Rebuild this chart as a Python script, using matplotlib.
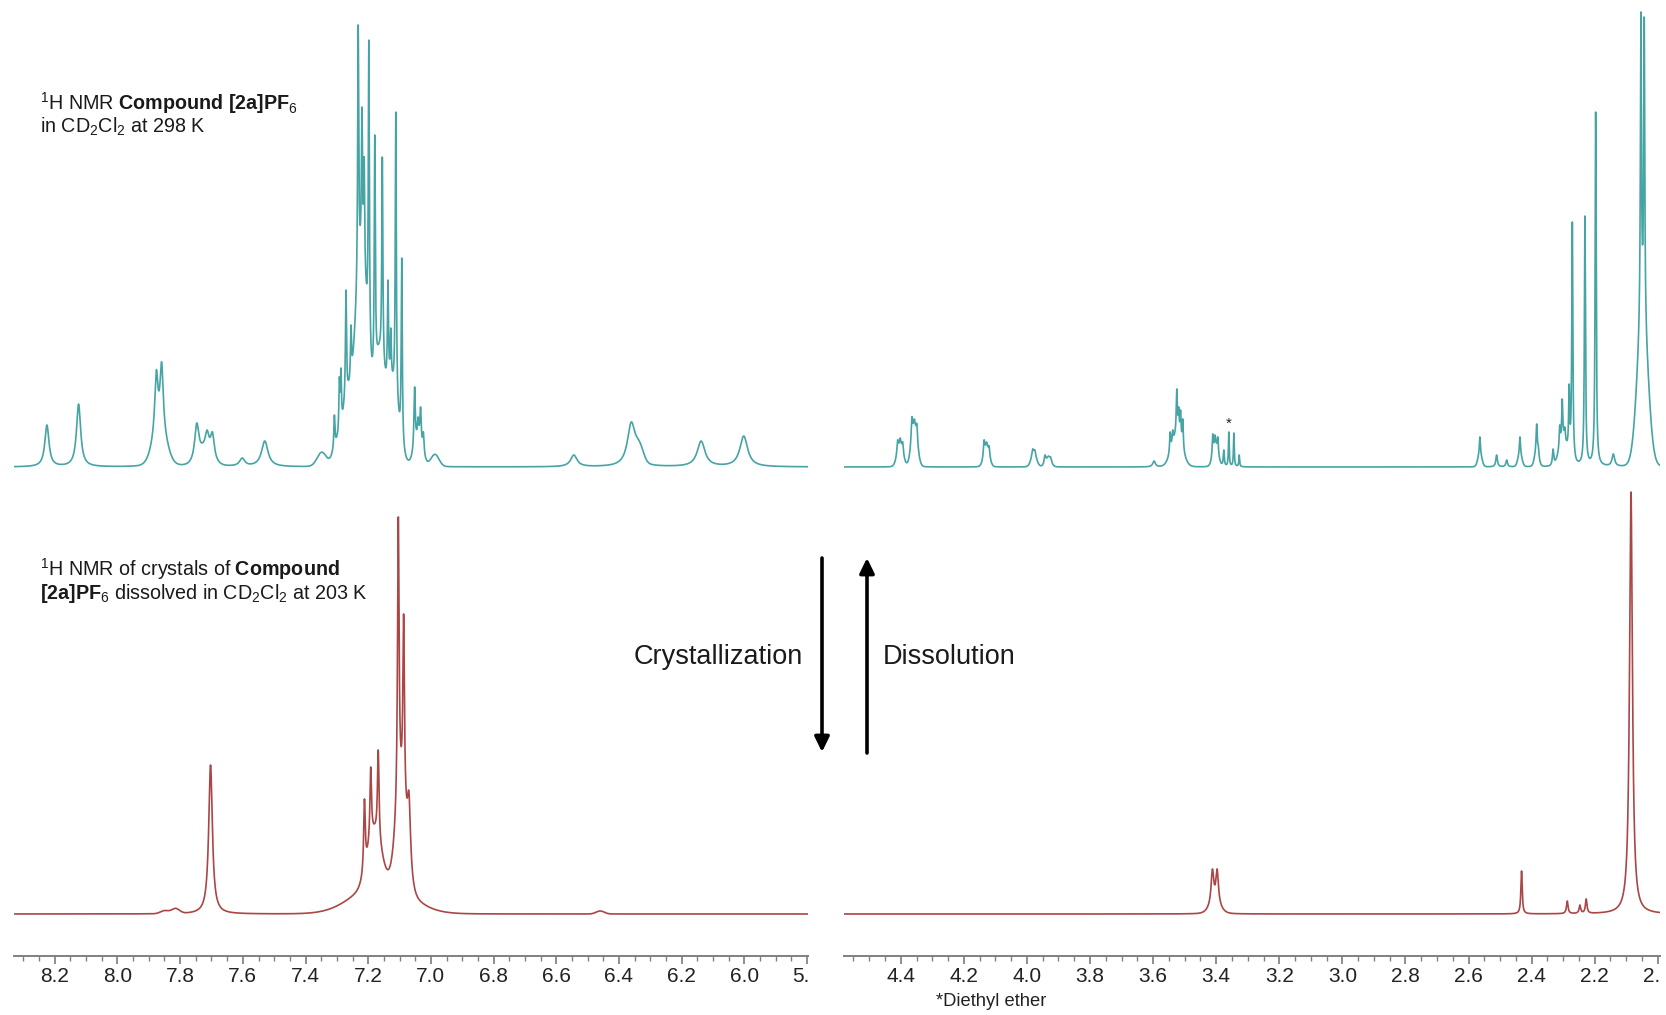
import numpy as np
import matplotlib
matplotlib.use("Agg")
import matplotlib.pyplot as plt
from matplotlib.ticker import FixedLocator, MultipleLocator
from matplotlib.transforms import Bbox, TransformedBbox

plt.rcParams["font.family"] = ["Liberation Sans", "DejaVu Sans"]
plt.rcParams["mathtext.fontset"] = "custom"
plt.rcParams["mathtext.rm"] = "Liberation Sans"
plt.rcParams["mathtext.bf"] = "Liberation Sans:bold"
plt.rcParams["mathtext.it"] = "Liberation Sans:italic"

W, H = 1666, 1015

# ---- espectro superior (298 K): linhas finas  (ppm, altura aparente, largura) ----
top_ppm = [8.225, 8.124, 7.876, 7.859, 7.747, 7.714, 7.697, 7.602, 7.530,
           7.308, 7.292, 7.287, 7.271, 7.255, 7.232, 7.220, 7.213, 7.198, 7.179,
           7.155, 7.137, 7.128, 7.112, 7.093, 7.052, 7.041, 7.033, 7.024,
           6.544, 6.361, 6.138, 6.002,
           4.410, 4.402, 4.394, 4.365, 4.357, 4.349, 4.136, 4.128, 4.120,
           3.982, 3.975, 3.943, 3.932, 3.925, 3.597,
           3.546, 3.538, 3.525, 3.519, 3.513, 3.506,
           3.411, 3.404, 3.395, 3.376, 3.360, 3.344, 3.327,
           2.564, 2.511, 2.479, 2.437, 2.384, 2.379, 2.332,
           2.311, 2.303, 2.295, 2.281, 2.271, 2.231, 2.197, 2.141, 2.0535, 2.043]
top_h = [42, 63, 97, 105, 44, 37, 35, 9, 26,
         52, 90, 99, 177, 142, 442, 360, 310, 427, 332,
         310, 187, 139, 355, 209, 80, 50, 60, 35,
         12, 45, 26, 31,
         27, 29, 25, 50, 48, 43, 27, 25, 21,
         18, 17, 12, 11, 10, 6,
         35, 37, 78, 60, 57, 48,
         33, 32, 30, 17, 35, 34, 12,
         30, 12, 7, 30, 43, 22, 18,
         42, 68, 40, 83, 245, 251, 355, 13, 455, 450]
top_w = [0.016, 0.016, 0.012, 0.012, 0.016, 0.014, 0.014, 0.02, 0.025,
         0.004, 0.004, 0.004, 0.004, 0.004, 0.004, 0.004, 0.004, 0.004, 0.004,
         0.004, 0.004, 0.004, 0.004, 0.004, 0.005, 0.005, 0.005, 0.005,
         0.025, 0.03, 0.03, 0.03,
         0.005, 0.005, 0.005, 0.005, 0.005, 0.005, 0.005, 0.005, 0.005,
         0.006, 0.006, 0.006, 0.006, 0.006, 0.01,
         0.004, 0.004, 0.004, 0.004, 0.004, 0.004,
         0.004, 0.004, 0.004, 0.004, 0.003, 0.003, 0.003,
         0.004, 0.006, 0.006, 0.004, 0.004, 0.004, 0.005,
         0.004, 0.004, 0.004, 0.004, 0.004, 0.004, 0.004, 0.01, 0.004, 0.004]
# envelopes largos (gaussianas)
top_env_ppm = [7.865, 7.72, 7.348, 7.300, 7.270, 7.222, 7.165, 7.125, 7.040, 6.987, 6.335,
               4.402, 4.357, 4.128, 3.978, 3.932, 3.525, 3.402,
               2.564, 2.437, 2.384, 2.300, 2.048]
top_env_h = [35, 15, 14, 20, 50, 200, 95, 75, 25, 12, 15,
             20, 38, 18, 12, 8, 30, 20,
             12, 12, 15, 25, 145]
top_env_w = [0.05, 0.05, 0.035, 0.03, 0.03, 0.05, 0.035, 0.045, 0.03, 0.03, 0.03,
             0.022, 0.022, 0.02, 0.02, 0.02, 0.04, 0.02,
             0.015, 0.015, 0.015, 0.03, 0.04]

# ---- espectro inferior (cristais, 203 K) ----
bot_ppm = [7.703, 7.212, 7.192, 7.168, 7.104, 7.087, 7.070,
           3.412, 3.397, 2.432, 2.287, 2.247, 2.227, 2.085]
bot_h = [149, 115, 147, 164, 397, 300, 122,
         45, 45, 43, 13, 9, 15, 422]
bot_w = [0.014, 0.006, 0.006, 0.006, 0.006, 0.006, 0.012,
         0.01, 0.01, 0.005, 0.006, 0.006, 0.006, 0.011]
bot_env_ppm = [7.85, 7.815, 7.16, 7.18, 7.095, 6.46, 3.404]
bot_env_h = [3, 5, 30, 50, 90, 3, 8]
bot_env_w = [0.03, 0.03, 0.2, 0.05, 0.04, 0.03, 0.04]

left_ticks = [8.2, 8.0, 7.8, 7.6, 7.4, 7.2, 7.0, 6.8, 6.6, 6.4, 6.2, 6.0, 5.8]
right_ticks = [4.4, 4.2, 4.0, 3.8, 3.6, 3.4, 3.2, 3.0, 2.8, 2.6, 2.4, 2.2, 2.0]

TEAL = "#46a4a4"
RED = "#aa4646"


def lor(x, c, w):
    return 1.0 / (1.0 + ((x - c) / (0.5 * w)) ** 2)


def gau(x, c, w):
    return np.exp(-4 * np.log(2) * ((x - c) / w) ** 2)


def spectrum(x, ppm, h, w, eppm, eh, ew):
    ppm, h, w = np.array(ppm), np.array(h, float), np.array(w)
    eppm, eh, ew = np.array(eppm), np.array(eh, float), np.array(ew)

    def env(xx):
        return (eh[None, :] * gau(xx[:, None], eppm[None, :], ew[None, :])).sum(1)

    A = lor(ppm[:, None], ppm[None, :], w[None, :])
    amp = np.clip(np.linalg.solve(A, h - env(ppm)), 0, None)
    return env(x) + (amp[None, :] * lor(x[:, None], ppm[None, :], w[None, :])).sum(1)


x = np.linspace(8.4, 1.9, 52000)
y_top = spectrum(x, top_ppm, top_h, top_w, top_env_ppm, top_env_h, top_env_w)
y_bot = spectrum(x, bot_ppm, bot_h, bot_w, bot_env_ppm, bot_env_h, bot_env_w)

fig = plt.figure(figsize=(W / 100, H / 100), dpi=100)
axL = fig.add_axes([14 / W, 59 / H, 794 / W, 956 / H])
axR = fig.add_axes([844 / W, 59 / H, 816 / W, 956 / H])

for ax, lim, ticks in [(axL, (8.33, 5.797), left_ticks), (axR, (4.58, 1.993), right_ticks)]:
    ax.plot(x, y_top + 489, color=TEAL, lw=1.2)
    ax.plot(x, y_bot + 42, color=RED, lw=1.2)
    ax.set_xlim(*lim)
    ax.set_ylim(0, 956)
    ax.patch.set_alpha(0)
    for s in ["left", "right", "top"]:
        ax.spines[s].set_visible(False)
    ax.spines["bottom"].set_color("#808080")
    ax.spines["bottom"].set_linewidth(1.4)
    ax.set_yticks([])
    ax.xaxis.set_major_locator(FixedLocator(ticks))
    ax.xaxis.set_minor_locator(MultipleLocator(0.05))
    ax.set_xticklabels([f"{t:.1f}" for t in ticks])
    ax.tick_params(axis="x", which="major", direction="out", length=6, width=1.1,
                   color="#707070", labelsize=15, labelcolor="#222222", pad=2)
    ax.tick_params(axis="x", which="minor", direction="out", length=3.5, width=1.0,
                   color="#808080")
    clip = TransformedBbox(Bbox([[0, -0.2], [1, 1]]), ax.transAxes)
    for tk in ax.xaxis.get_major_ticks():
        tk.label1.set_clip_on(True)
        tk.label1.set_clip_box(clip)


def fy(ypix):
    return 1 - ypix / H


fig.text(40 / W, fy(110), r"$^{1}$H NMR $\mathbf{Compound\ [2a]PF}_6$", fontsize=14.2,
         va="baseline", color="#1a1a1a")
fig.text(40 / W, fy(133), r"in CD$_2$Cl$_2$ at 298 K", fontsize=14.2, va="baseline", color="#1a1a1a")
fig.text(40 / W, fy(576), r"$^{1}$H NMR of crystals of $\mathbf{Compound}$", fontsize=14.2,
         va="baseline", color="#1a1a1a")
fig.text(40 / W, fy(599), r"$\mathbf{[2a]PF}_6$ dissolved in CD$_2$Cl$_2$ at 203 K", fontsize=14.2,
         va="baseline", color="#1a1a1a")

fig.text(803 / W, fy(657), "Crystallization", fontsize=19.5, ha="right", va="center", color="#1a1a1a")
fig.text(883 / W, fy(657), "Dissolution", fontsize=19.5, ha="left", va="center", color="#1a1a1a")
fig.text(1229 / W, fy(424), "*", fontsize=11, ha="center", va="center", color="#222222")
fig.text(991 / W, fy(1002), "*Diethyl ether", fontsize=13.2, ha="center", va="center", color="#222222")

arrow = dict(arrowstyle="-|>,head_length=0.45,head_width=0.22", lw=2.6, color="black",
             mutation_scale=20, shrinkA=0, shrinkB=0)
fig.add_artist(matplotlib.patches.FancyArrowPatch((822, H - 558), (822, H - 752),
                                                  transform=None, **arrow))
fig.add_artist(matplotlib.patches.FancyArrowPatch((867, H - 753), (867, H - 558),
                                                  transform=None, **arrow))

fig.savefig("out.png", dpi=100)
